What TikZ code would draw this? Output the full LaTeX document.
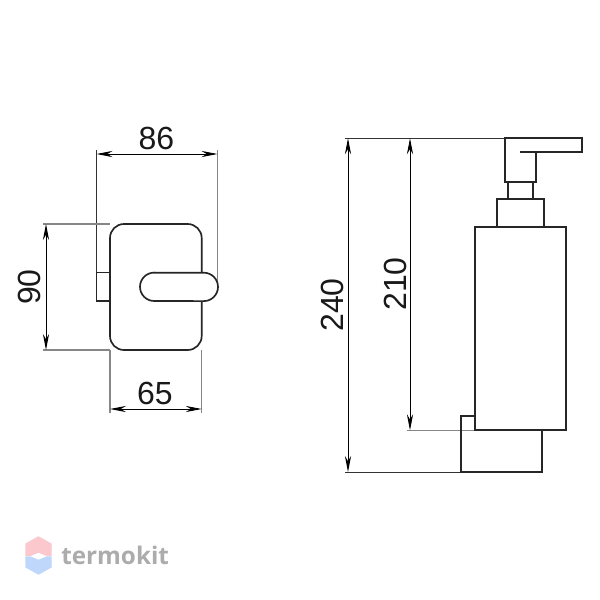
\documentclass[tikz,border=0pt]{standalone}
\usepackage{fontspec}
\setmainfont{Liberation Sans}
\newfontfamily\logofont{Open Sans}
\usetikzlibrary{arrows.meta}
\definecolor{extgray}{RGB}{135,135,135}
\definecolor{logotext}{RGB}{172,172,172}
\definecolor{logopink}{RGB}{250,200,205}
\definecolor{logoblue}{RGB}{190,215,250}
\tikzset{
  x=0.75pt,y=-0.75pt,
  part/.style={draw=black!85,line width=1.25pt,line join=miter},
  ext/.style={draw=extgray,line width=0.9pt},
  extdark/.style={draw=black!80,line width=0.75pt},
  dim/.style={draw=black,line width=0.65pt,{Stealth[length=12pt,width=4.6pt]}-{Stealth[length=12pt,width=4.6pt]}},
  dimtext/.style={font=\fontsize{24}{24}\selectfont,inner sep=0pt,text=black!90},
}
\begin{document}
\begin{tikzpicture}
\useasboundingbox (0,0) rectangle (600,600);
\fill[white] (0,0) rectangle (600,600);
% named points: plan view
\coordinate (bl) at (110,350); \coordinate (br) at (201.7,350);
\coordinate (tl) at (110,224);
\coordinate (w86a) at (96.5,150); \coordinate (w86b) at (96.5,272.5);
\coordinate (h86a) at (217.5,150); \coordinate (h86b) at (217.5,285);
\coordinate (d86a) at (96.5,154); \coordinate (d86b) at (217.5,154);
\coordinate (d65a) at (110,409); \coordinate (d65b) at (201.7,409);
\coordinate (e90a) at (43,224); \coordinate (e90b) at (43,350);
\coordinate (d90a) at (46,224); \coordinate (d90b) at (46,350);
% extension lines, plan view
\draw[extdark] (w86a) -- (w86b);
\draw[ext] (h86a) -- (h86b);
\draw[ext] (e90a) -- (tl);
\draw[ext] (e90b) -- (bl);
\draw[ext] (bl) -- (110,413);
\draw[ext] (br) -- (201.7,413);
% plan view shapes
\draw[part,rounded corners=10.5pt] (110,224) rectangle (201.7,350);
\draw[part] (110,272.5) -- (96.5,272.5) -- (96.5,301) -- (110,301);
\draw[part,fill=white] (154.2,272.7) -- (203.8,272.7) arc[start angle=90,end angle=-90,radius=10.65pt] -- (154.2,301) arc[start angle=270,end angle=90,radius=10.65pt] -- cycle;
% dims, plan view
\draw[dim] (d86a) -- (d86b);
\draw[dim] (d65a) -- (d65b);
\draw[dim] (d90a) -- (d90b);
\node[dimtext] (t86) at (156.5,138) {86};
\node[dimtext] (t65) at (155,393) {65};
\node[dimtext,rotate=90] (t90) at (29,287) {90};
% side view points
\coordinate (captl) at (505,138.3); \coordinate (mountbl) at (461,472);
\coordinate (bodybl) at (475,430.3);
\coordinate (e240a) at (345,138.3); \coordinate (e240b) at (345,472);
\coordinate (e210) at (407,430.3);
\coordinate (d240a) at (348,138.3); \coordinate (d240b) at (348,472);
\coordinate (d210a) at (410,138.3); \coordinate (d210b) at (410,430.3);
\draw[extdark] (e240a) -- (captl);
\draw[extdark] (e240b) -- (mountbl);
\draw[ext] (e210) -- (bodybl);
% side view shapes
\draw[part] (520,151.7) -- (582,151.7) -- (582,138.3) -- (505,138.3) -- (505,182.3) -- (536,182.3) -- (536,151.7);
\draw[part] (507.7,182.3) -- (507.7,199.3);
\draw[part] (533.3,182.3) -- (533.3,199.3);
\draw[part] (497.3,227) -- (497.3,199.3) -- (543.7,199.3) -- (543.7,227);
\draw[part] (475,227) rectangle (566.3,430.3);
\draw[part] (475,416) -- (461,416) -- (461,472) -- (542.3,472) -- (542.3,430.3);
% dims, side view
\draw[dim] (d240a) -- (d240b);
\draw[dim] (d210a) -- (d210b);
\node[dimtext,rotate=90] (t240) at (332,305) {240};
\node[dimtext,rotate=90] (t210) at (395.5,284) {210};
% logo
\fill[logopink,line join=round,draw=logopink,line width=1pt] (38.5,537) -- (51,544) -- (51,555.5) -- (47,555.5) -- (38.5,552) -- (30,555.5) -- (26,555.5) -- (26,544) -- cycle;
\fill[logoblue,line join=round,draw=logoblue,line width=1pt] (38.5,574) -- (51,567) -- (51,557) -- (47,557) -- (38.5,560.5) -- (30,557) -- (26,557) -- (26,567) -- cycle;
\node[inner sep=0pt,anchor=west,text=logotext,font=\logofont\bfseries\fontsize{18.2}{18.2}\selectfont] (logo) at (61,555) {termokit};
\end{tikzpicture}
\end{document}
